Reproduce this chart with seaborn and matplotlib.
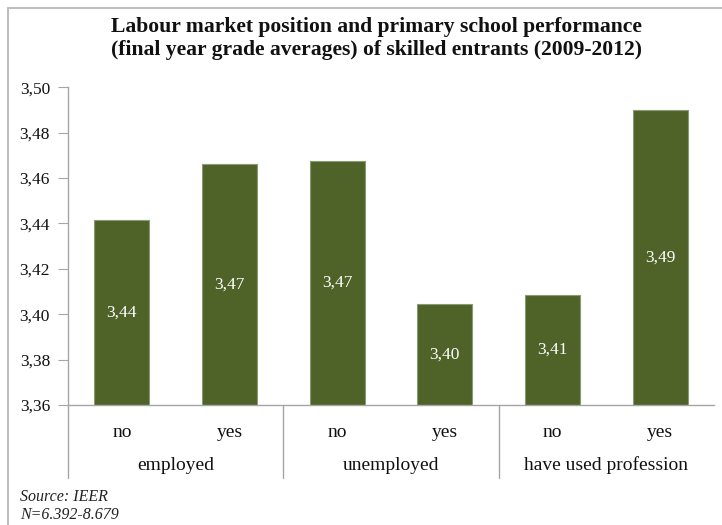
import matplotlib
matplotlib.use("Agg")
import matplotlib.pyplot as plt
import matplotlib.transforms as mtransforms
import seaborn as sns
import pandas as pd
import numpy as np

# chart data
groups = ["employed", "employed", "unemployed", "unemployed",
          "have used profession", "have used profession"]
answers = ["no", "yes", "no", "yes", "no", "yes"]
values = [3.4415, 3.4660, 3.4675, 3.4045, 3.4085, 3.4900]
yticks = [3.36, 3.38, 3.40, 3.42, 3.44, 3.46, 3.48, 3.50]

BAR = "#4F6228"
GRAY = "#A6A6A6"

sns.set_theme(style="white")
plt.rcParams["font.family"] = ["Liberation Serif", "DejaVu Serif"]

df = pd.DataFrame({"group": groups, "answer": answers, "value": values})
df["key"] = df["group"] + "|" + df["answer"]

fig = plt.figure(figsize=(7.22, 5.25), dpi=100)
ax = fig.add_axes([0.0942, 0.2286, 0.8948, 0.6054])

sns.barplot(data=df, x="key", y="value", order=list(df["key"]), color=BAR,
            saturation=1, width=0.51, edgecolor="#8A9A72", linewidth=0.8, ax=ax)

ax.set_ylim(3.36, 3.50)
ax.set_xlim(-0.5, len(df) - 0.5)
ax.set_yticks(yticks)
ax.set_yticklabels([f"{t:.2f}".replace(".", ",") for t in yticks], fontsize=12.5, color="#111111")
ax.tick_params(axis="y", which="major", length=7, width=0.8, color=GRAY, left=True, pad=6)
ax.set_xticks([])
ax.set_xlabel("")
ax.set_ylabel("")
for side in ["top", "right"]:
    ax.spines[side].set_visible(False)
for side in ["left", "bottom"]:
    ax.spines[side].set_color(GRAY)
    ax.spines[side].set_linewidth(1.0)

# value labels in the middle of each bar
for i, v in enumerate(df["value"]):
    ax.text(i, (3.36 + v) / 2, f"{v:.2f}".replace(".", ","), ha="center", va="center",
            color="white", fontsize=12.5)

# two-level category axis
trans = mtransforms.blended_transform_factory(ax.transData, ax.transAxes)
for i, a in enumerate(df["answer"]):
    ax.text(i, -0.085, a, transform=trans, ha="center", va="center", fontsize=14, color="#111111")
uniq = list(dict.fromkeys(df["group"]))
for g in uniq:
    idx = np.where(df["group"] == g)[0]
    ax.text(idx.mean(), -0.19, g, transform=trans, ha="center", va="center",
            fontsize=14, color="#111111")
for b in [-0.5, 1.5, 3.5]:
    ax.plot([b, b], [0, -0.23], transform=trans, color=GRAY, lw=1.0, clip_on=False)

fig.text(0.521, 0.949, "Labour market position and primary school performance",
         ha="center", va="center", fontsize=15.6, fontweight="bold", color="#111111")
fig.text(0.521, 0.905, "(final year grade averages) of skilled entrants (2009-2012)",
         ha="center", va="center", fontsize=15.6, fontweight="bold", color="#111111")

fig.text(0.028, 0.054, "Source: IEER", ha="left", va="center", fontsize=11.5, style="italic", color="#222222")
fig.text(0.028, 0.019, "N=6.392-8.679", ha="left", va="center", fontsize=11.5, style="italic", color="#222222")

# chart frame
fig.add_artist(plt.Line2D([0.011, 0.011], [0, 0.985], transform=fig.transFigure, color="#BFBFBF", lw=1.5))
fig.add_artist(plt.Line2D([0.011, 1.0], [0.985, 0.985], transform=fig.transFigure, color="#BFBFBF", lw=1.5))

fig.savefig("out.png", dpi=100)
